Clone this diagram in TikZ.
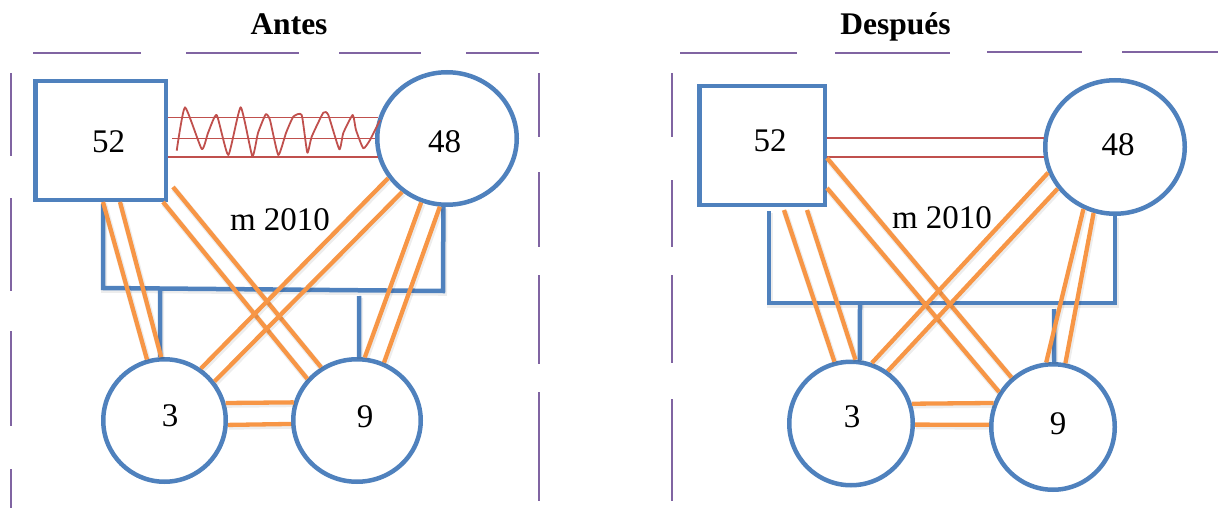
\documentclass[tikz,border=0pt]{standalone}
\usepackage{fontspec}
\setmainfont{Liberation Serif}
\usetikzlibrary{shapes.geometric}
\definecolor{cblue}{HTML}{4F81BD}
\definecolor{corange}{HTML}{F79646}
\definecolor{cred}{HTML}{C0504D}
\definecolor{cpurple}{HTML}{8064A2}
\begin{document}
\begin{tikzpicture}[x=1pt,y=-1pt,
  shapeline/.style={draw=cblue, line width=4.5pt, inner sep=0pt, outer sep=2.25pt},
  sqbox/.style={shapeline, rectangle},
  rnd/.style={shapeline, circle},
  ell/.style={shapeline, ellipse},
  lab/.style={anchor=base, inner sep=0pt, font=\fontsize{33}{40}\selectfont},
  ttl/.style={anchor=base, inner sep=0pt, font=\fontsize{31.5}{38}\selectfont\bfseries},
  shadowed/.style={preaction={draw=black, draw opacity=0.07, line width=6pt,
      transform canvas={shift={(1pt,-1.8pt)}}}},
  oline/.style={draw=corange, line width=4.3pt, shadowed},
  bracket/.style={draw=cblue, line width=4.5pt, shadowed},
  rline/.style={draw=cred, line width=1.8pt},
  rlinetwo/.style={draw=cred, line width=1.5pt},
  pline/.style={draw=cpurple, line width=1.8pt}
]
\useasboundingbox (0,0) rectangle (1218,508);

% ---------- frame dashes ----------
\draw[pline] (33,53) -- (141,53);
\draw[pline] (186,53) -- (299,53);
\draw[pline] (339,53) -- (421,53);
\draw[pline] (466,53) -- (539,53);
\draw[pline] (680,53) -- (797,53);
\draw[pline] (835,53) -- (950,53);
\draw[pline] (987,52) -- (1082,52);
\draw[pline] (1122,52) -- (1218,52);
\foreach \a/\b in {73/156,198/291,331/426,469/508}
  \draw[pline] (11,\a) -- (11,\b);
\foreach \a/\b in {73/137,172/247,275/364,392/501}
  \draw[pline] (539,\a) -- (539,\b);
\foreach \a/\b in {73/137,180/247,275/363,399/501}
  \draw[pline] (672,\a) -- (672,\b);

% ---------- titles ----------
\node[ttl] (tA) at (289,35) {Antes};
\node[ttl] (tD) at (895.5,35) {Después};

% ---------- left panel shapes ----------
\node[sqbox, minimum width=130.5pt, minimum height=118.5pt] (sqL) at (100.5,140.5) {};
\node[ell, minimum width=139.5pt, minimum height=132.5pt] (c48L) at (447,138.5) {};
\node[rnd, minimum size=122.5pt] (c3L) at (164.5,420.5) {};
\node[ell, minimum width=127.5pt, minimum height=122.5pt] (c9L) at (357,420.5) {};

% ---------- right panel shapes ----------
\node[sqbox, minimum width=125.5pt, minimum height=118.5pt] (sqR) at (762,145.5) {};
\node[ell, minimum width=139.5pt, minimum height=133.5pt] (c48R) at (1115,147) {};
\node[rnd, minimum size=123.5pt] (c3R) at (851,423.5) {};
\node[ell, minimum width=123.5pt, minimum height=125.5pt] (c9R) at (1053,427) {};

% ---------- labels ----------
\node[lab] (t52L) at (108.5,153) {52};
\node[lab] (t48L) at (444.5,153) {48};
\node[lab] (t3L) at (170,426) {3};
\node[lab] (t9L) at (365,427) {9};
\node[lab] (mL) at (280,230) {m 2010};
\node[lab] (t52R) at (770,152) {52};
\node[lab] (t48R) at (1118,156) {48};
\node[lab] (t3R) at (852,427) {3};
\node[lab] (t9R) at (1058,434) {9};
\node[lab] (mR) at (942,228) {m 2010};

% ---------- left brackets ----------
\coordinate (bL1) at (103,288);
\coordinate (bL2) at (443,291);
\coordinate (hL1) at (160,289.4);
\coordinate (hL2) at (359,296);
\draw[bracket] ([shift={(70pt,-2pt)}]sqL.south west) -- (bL1) -- (bL2) -- (c48L.267);
\draw[bracket] (hL1) -- (c3L.94);
\draw[bracket] (hL2) -- (c9L.88);

% ---------- right brackets ----------
\coordinate (bR1) at (769,303);
\coordinate (bR2) at (1115,303);
\coordinate (hR1) at (860,303);
\coordinate (hR2) at (1054,309);
\draw[bracket] ([shift={(72pt,-4pt)}]sqR.south west) -- (bR1) -- (bR2) -- (c48R.south);
\draw[bracket] (hR1) -- (c3R.82);
\draw[bracket] (hR2) -- (c9R.89);

% ---------- left red links ----------
\draw[rline] (sqL.east |- c48L.163) -- (c48L.163);
\draw[rline] (c48L.west -| sqL.east) ++(4,0) -- (c48L.west);
\draw[rline] (sqL.east |- c48L.195) -- (c48L.195);
\draw[rline, line join=round] plot[smooth, tension=0.3] coordinates {
 (176.7,150.7) (185,107.3) (201.7,149) (208,133) (216.7,115) (228.3,155)
 (240.7,107.3) (252.3,156) (258,133) (265.7,114.3) (270,120) (278.3,155)
 (286,133) (293.3,116.7) (301.7,115) (307.3,152.7) (311.7,136.7)
 (323.3,112.7) (328.3,115) (339.3,149.3) (343.3,133) (352.7,115) (356,130)
 (363.3,148.3) (370,140) (380,120)};

% ---------- right red links ----------
\draw[rlinetwo] (sqR.east |- c48R.173) -- (c48R.173);
\draw[rlinetwo] (sqR.east |- c48R.188.2) -- (c48R.188.2);

% ---------- left orange links ----------
\draw[oline] ([xshift=70pt]sqL.south west) -- (c3L.106);
\draw[oline] ([xshift=87pt]sqL.south west) -- (c3L.93);
\draw[oline] ([xshift=-5pt]sqL.south east) -- (c9L.140);
\draw[oline] ([shift={(5pt,15pt)}]sqL.south east) -- (c9L.124);
\draw[oline] (c48L.214) -- (c3L.55);
\draw[oline] (c48L.230) -- (c3L.38);
\draw[oline] (c48L.248) -- (c9L.83);
\draw[oline] (c48L.264) -- (c9L.65);
\draw[oline] (c3L.16) -- (c9L.164.6);
\draw[oline] (c3L.-4) -- (c9L.183.9);

% ---------- right orange links ----------
\draw[oline] ([shift={(87pt,-3pt)}]sqR.south west) -- (c3R.105.5);
\draw[oline] ([shift={(110pt,-3pt)}]sqR.south west) -- (c3R.86.4);
\draw[oline] ([yshift=-12.5pt]sqR.east) -- (c9R.130.3);
\draw[oline] ([yshift=-42.5pt]sqR.east) -- (c9R.147.5);
\draw[oline] (c48R.201) -- (c3R.71.4);
\draw[oline] (c48R.216.7) -- (c3R.55.3);
\draw[oline] (c48R.243.4) -- (c9R.96.9);
\draw[oline] (c48R.252.1) -- (c9R.79.6);
\draw[oline] (c3R.18.7) -- (c9R.158);
\draw[oline] (c3R.-1.3) -- (c9R.178.1);
\end{tikzpicture}
\end{document}
